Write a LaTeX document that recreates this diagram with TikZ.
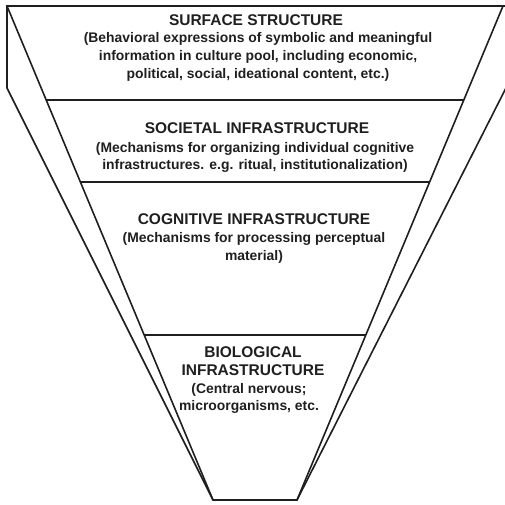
\documentclass[tikz,border=0pt]{standalone}
\usepackage{fontspec}
\setmainfont{Liberation Sans}
\usetikzlibrary{calc}
\definecolor{ink}{gray}{0.12}
\begin{document}
\begin{tikzpicture}[x=1pt,y=-1pt,
  edge/.style={draw=ink,line width=1.6pt,line join=miter},
  rule/.style={draw=ink,line width=1.6pt},
  heading/.style={text=ink,font=\bfseries\fontsize{15.5}{18}\selectfont,align=center,inner sep=0pt},
  note/.style={text=ink,font=\bfseries\fontsize{13.9}{17.8}\selectfont,align=center,inner sep=0pt}]
\useasboundingbox (0,0) rectangle (505,504);
\begin{scope}
  \clip (0,0) rectangle (505,504);
  % corners of the funnel
  \coordinate (tl) at (7,6);
  \coordinate (tr) at (503,6);
  \coordinate (bl) at (213,500);
  \coordinate (br) at (297,500);
  \coordinate (sl) at (7,88);
  \coordinate (tsr) at (508,6);
  \coordinate (sr) at (508,84);
  % front face
  \draw[edge] (tl) -- (tr) -- (br) -- (bl) -- cycle;
  % side faces
  \draw[edge] (tl) -- (sl) -- (bl);
  \draw[edge] (tr) -- (tsr) -- (sr) -- (br);
  % layer boundaries on the front face
  \coordinate (l1) at ($(tl)!0.1903!(bl)$);
  \coordinate (r1) at ($(tr)!0.1903!(br)$);
  \coordinate (l2) at ($(tl)!0.3563!(bl)$);
  \coordinate (r2) at ($(tr)!0.3563!(br)$);
  \coordinate (l3) at ($(tl)!0.666!(bl)$);
  \coordinate (r3) at ($(tr)!0.666!(br)$);
  \draw[rule] (l1) -- (r1);
  \draw[rule] (l2) -- (r2);
  \draw[rule] (l3) -- (r3);
\end{scope}
% layer labels
\node[heading] (surf) at (256,20) {SURFACE STRUCTURE};
\node[note] (surfnote) at (258,57) {(Behavioral expressions of symbolic and meaningful\\information in culture pool, including economic,\\political, social, ideational content, etc.)};
\node[heading] (soc) at (257,128) {SOCIETAL INFRASTRUCTURE};
\node[note] (socnote) at (255,157.4) {(Mechanisms for organizing individual cognitive\\infrastructures. e.g. ritual, institutionalization)};
\node[heading] (cog) at (254,219) {COGNITIVE INFRASTRUCTURE};
\node[note] (cognote) at (254,248) {(Mechanisms for processing perceptual\\material)};
\node[heading] (bio) at (253,361) {BIOLOGICAL\\INFRASTRUCTURE};
\node[note] (bionote) at (249,398.4) {(Central nervous;\\microorganisms, etc.};
\end{tikzpicture}
\end{document}
